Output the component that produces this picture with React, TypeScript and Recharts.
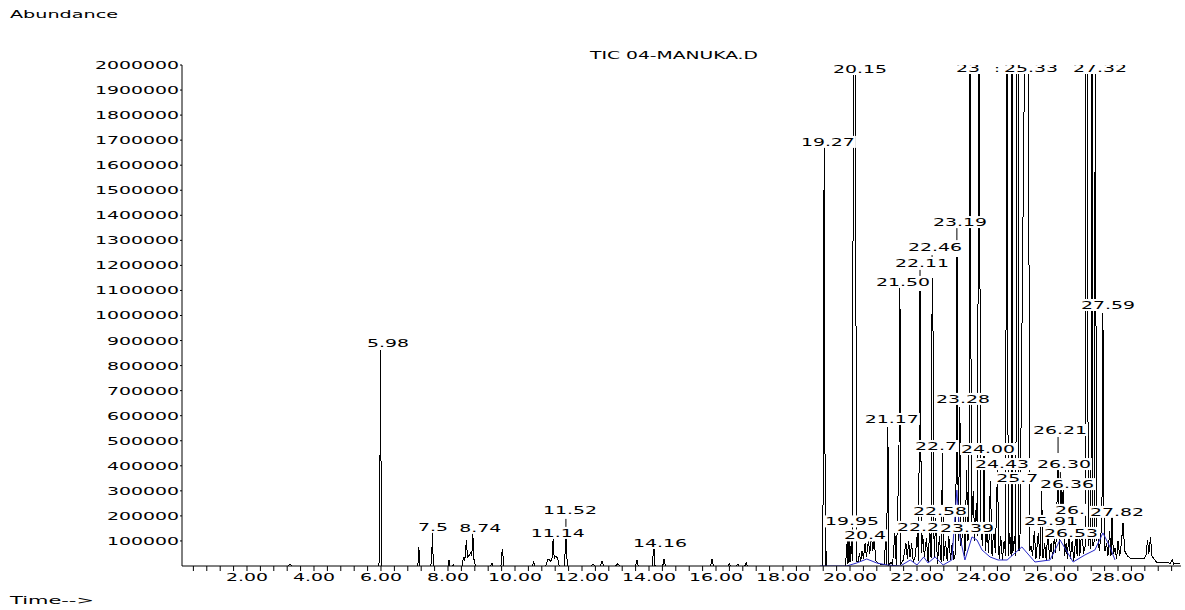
import React from 'react';
import { ComposedChart, Line, Scatter, XAxis, YAxis, ReferenceLine } from 'recharts';

// retention time (min), abundance (thousands)
const earlyScan: [number, number][] = [
  [0.3, 0], [3.22, 0], [3.28, 8], [3.34, 0],
  [5.94, 0], [5.97, 423], [5.99, 862], [6.01, 0],
  [7.1, 0], [7.13, 76], [7.16, 0],
  [7.49, 0], [7.52, 64], [7.54, 136], [7.56, 0],
  [8.0, 0], [8.03, 24], [8.06, 0], [8.14, 0], [8.16, 6], [8.18, 0],
  [8.42, 0], [8.46, 36], [8.5, 20], [8.55, 104], [8.58, 36], [8.62, 40], [8.67, 52], [8.71, 40], [8.74, 136], [8.77, 30], [8.82, 0],
  [9.27, 0], [9.31, 12], [9.34, 0],
  [9.58, 0], [9.61, 56], [9.63, 68], [9.66, 0],
  [10.52, 0], [10.56, 16], [10.6, 0],
  [10.92, 0], [10.97, 24], [11.02, 28], [11.07, 16], [11.11, 36], [11.14, 112], [11.17, 30], [11.22, 40], [11.27, 32], [11.32, 0],
  [11.48, 0], [11.51, 112], [11.53, 120], [11.56, 0],
  [12.28, 0], [12.33, 8], [12.38, 0], [12.55, 0], [12.6, 20], [12.65, 0],
  [13.0, 0], [13.07, 10], [13.12, 0], [13.6, 0], [13.64, 24], [13.68, 0],
  [14.1, 0], [14.13, 60], [14.15, 68], [14.18, 0], [14.41, 0], [14.45, 28], [14.49, 0],
  [15.84, 0], [15.88, 28], [15.92, 0],
  [16.36, 0], [16.4, 8], [16.44, 0], [16.61, 0], [16.65, 8], [16.69, 0], [16.86, 0], [16.9, 15], [16.94, 0],
  [19.0, 0],
];

const midScan: [number, number][] = [
  [19.19, 0], [19.21, 1074], [19.23, 1672], [19.245, 1074], [19.26, 0], [19.28, 76], [19.3, 0],
  [19.86, 0], [19.9, 60], [19.92, 116], [19.94, 10], [19.97, 116], [20.0, 15], [20.04, 100], [20.07, 20],
  [20.11, 2600], [20.16, 2600], [20.19, 20], [20.24, 15], [20.28, 50], [20.32, 20], [20.36, 60], [20.4, 30],
  [20.45, 90], [20.49, 35], [20.55, 104], [20.59, 50], [20.64, 124], [20.68, 60], [20.72, 115], [20.77, 20],
  [20.85, 10], [20.95, 5], [21.03, 5], [21.06, 124], [21.09, 5], [21.13, 555], [21.16, 5], [21.22, 15],
  [21.27, 5], [21.34, 132], [21.38, 5], [21.46, 423], [21.49, 1114], [21.52, 10], [21.58, 20], [21.62, 50],
  [21.67, 90], [21.71, 30], [21.75, 100], [21.79, 35], [21.84, 90], [21.89, 15], [21.95, 40], [22.01, 130],
  [22.05, 20], [22.08, 1094], [22.1, 1094], [22.13, 50], [22.17, 125], [22.22, 35], [22.28, 110], [22.33, 15],
  [22.38, 150], [22.42, 30], [22.44, 914], [22.46, 1150], [22.48, 914], [22.51, 30], [22.56, 190], [22.61, 10],
  [22.67, 120], [22.72, 15], [22.76, 451], [22.79, 20], [22.85, 100], [22.9, 20], [22.95, 120], [23.0, 25],
  [23.05, 90], [23.1, 25], [23.16, 60], [23.18, 1230], [23.2, 1230], [23.23, 100], [23.28, 635], [23.31, 80],
  [23.35, 120], [23.39, 200], [23.43, 40], [23.48, 383], [23.52, 100], [23.55, 150], [23.57, 2600], [23.6, 1790],
  [23.62, 150], [23.68, 300], [23.72, 100], [23.77, 250], [23.81, 120], [23.84, 2600], [23.87, 1620], [23.9, 150],
  [23.96, 80],
];

const lateScan: [number, number][] = [
  [24.0, 440], [24.04, 60], [24.09, 150], [24.14, 50], [24.19, 340], [24.24, 40], [24.29, 150], [24.34, 50],
  [24.4, 383], [24.45, 30], [24.5, 120], [24.55, 25], [24.6, 100], [24.65, 40], [24.67, 2600], [24.7, 2600],
  [24.72, 40], [24.77, 130], [24.81, 40], [24.84, 2600], [24.86, 50], [24.91, 120], [24.95, 40], [24.98, 2600],
  [25.01, 2600], [25.03, 60], [25.07, 60], [25.25, 2600], [25.31, 2600], [25.33, 1750], [25.37, 60], [25.4, 80],
  [25.45, 40], [25.5, 140], [25.55, 30], [25.62, 130], [25.67, 30], [25.72, 300], [25.76, 30], [25.81, 90],
  [25.86, 20], [25.91, 170], [25.95, 30], [26.0, 90], [26.05, 30], [26.1, 120], [26.14, 50], [26.21, 420],
  [26.25, 60], [26.3, 351], [26.33, 150], [26.36, 303], [26.4, 40], [26.45, 90], [26.49, 30], [26.53, 140],
  [26.58, 30], [26.63, 100], [26.68, 20], [26.74, 120], [26.78, 40], [26.82, 200], [26.86, 40], [26.92, 150],
  [26.97, 50], [27.02, 80], [27.05, 2600], [27.08, 2600], [27.11, 80], [27.15, 120], [27.19, 70], [27.22, 2600],
  [27.25, 80], [27.29, 100], [27.33, 2600], [27.35, 100], [27.4, 130], [27.44, 60], [27.49, 120], [27.53, 311],
  [27.55, 1010], [27.57, 311], [27.61, 60], [27.66, 90], [27.7, 40], [27.75, 140], [27.79, 40], [27.82, 196],
  [27.86, 50], [27.91, 70], [27.96, 30], [28.0, 100], [28.05, 40], [28.1, 90], [28.15, 172], [28.2, 60],
  [28.28, 40], [28.38, 30], [28.5, 28], [28.65, 28], [28.78, 30], [28.84, 45], [28.88, 104], [28.92, 50],
  [28.97, 116], [29.01, 40], [29.08, 28], [29.15, 15], [29.3, 14], [29.45, 15], [29.55, 10], [29.62, 24],
  [29.66, 8], [29.75, 12], [29.85, 10],
];

// blue integration baseline
const baseline: [number, number][] = [
  [19.1, 0], [19.9, 0], [20.2, 12], [20.5, 28], [20.8, 12], [21.1, 4], [21.5, 0], [21.8, 24], [22.0, 4],
  [22.2, 36], [22.33, 12], [22.54, 36], [22.78, 4], [23.04, 24], [23.19, 303], [23.28, 116], [23.43, 24],
  [23.64, 116], [23.79, 104], [23.94, 64], [24.18, 36], [24.42, 24], [24.69, 24], [25.13, 76], [25.52, 16],
  [25.97, 24], [26.27, 104], [26.66, 16], [27.01, 44], [27.31, 64], [27.55, 132], [27.76, 76], [27.91, 24],
];

// peak labels: text, time of label centre, abundance of label centre (thousands)
const labelTexts = ['5.98', '7.5', '8.74', '11.14', '11.52', '14.16', '19.27', '19.95', '20.4', '20.15',
  '21.17', '21.50', '22.2', '22.11', '22.46', '22.58', '22.7', '23.19', '23.28', '23.39', '23', '24.00',
  ':', '24.43', '25.7', '25.33', '26.21', '26.30', '26.36', '25.91', '26.53', '26.', '27.32', '27.59', '27.82'];
const labelTimes = [6.21, 7.55, 8.96, 11.28, 11.64, 14.33, 19.34, 20.06, 20.45, 20.3,
  21.25, 21.58, 22.03, 22.15, 22.54, 22.69, 22.57, 23.28, 23.37, 23.49, 23.52, 24.12,
  24.39, 24.54, 24.99, 25.4, 26.27, 26.39, 26.48, 26.0, 26.6, 26.57, 27.46, 27.7, 27.97];
const labelAbund = [890, 156, 152, 132, 224, 92, 1693, 178, 122, 1984,
  587, 1134, 156, 1210, 1273, 220, 479, 1373, 667, 152, 1988, 467,
  1988, 407, 351, 1988, 543, 407, 327, 180, 132, 224, 1988, 1042, 216];

const leaderTimes = [11.52, 22.09, 22.45, 23.19, 26.21, 26.28];
const leaderTop = [188, 1182, 1241, 1349, 515, 375];
const leaderBottom = [156, 1154, 1210, 1301, 451, 343];

const yTicks = [100000, 200000, 300000, 400000, 500000, 600000, 700000, 800000, 900000, 1000000,
  1100000, 1200000, 1300000, 1400000, 1500000, 1600000, 1700000, 1800000, 1900000, 2000000];
const xTicks = Array.from({ length: 74 }, (_, i) => Math.round((i + 1) * 4) / 10);

const FONT = '"DejaVu Sans", sans-serif';

const textLen = (s: string) =>
  s.split('').reduce((w, c) => w + (c === '.' || c === ':' || c === ' ' ? 6 : 12), 0);

const WideText = ({ x, y, text, anchor = 'middle', size = 11 }: any) => {
  const len = textLen(text);
  const x0 = anchor === 'middle' ? x - len / 2 : anchor === 'end' ? x - len : x;
  return (
    <text x={x0} y={y} dy="0.36em" fontFamily={FONT} fontSize={size} textLength={len}
      lengthAdjust="spacingAndGlyphs" fill="#000">
      {text}
    </text>
  );
};

const toPoints = (scan: [number, number][]) => scan.map(([t, a]) => ({ t, a: a * 1000 }));

const YTick = (props: any) => {
  const { x, y, payload } = props;
  return <WideText x={x} y={y} text={String(payload.value)} anchor="end" />;
};

const XTick = (props: any) => {
  const { x, y, payload } = props;
  const v = payload.value;
  if (Math.abs(v / 2 - Math.round(v / 2)) > 1e-6) return <g />;
  return <WideText x={x} y={y + 4} text={v.toFixed(2)} />;
};

const PeakLabel = (props: any) => {
  const { cx, cy, payload } = props;
  if (cx == null || cy == null) return <g />;
  const len = textLen(payload.text);
  return (
    <g>
      <rect x={cx - len / 2 - 1} y={cy - 6} width={len + 2} height={12} fill="#fff" />
      <WideText x={cx} y={cy} text={payload.text} />
    </g>
  );
};

const App: React.FC = () => {
  const trace = [...toPoints(earlyScan), ...toPoints(midScan), ...toPoints(lateScan)];
  const base = toPoints(baseline);
  const labels = labelTexts.map((text, i) => ({ t: labelTimes[i], a: labelAbund[i] * 1000, text }));

  return (
    <div style={{ position: 'absolute', left: 0, top: 0, width: 1185, height: 610, background: '#fff' }}>
      <ComposedChart width={1185} height={610} margin={{ top: 65, right: 4, bottom: 14, left: 0 }}>
        <XAxis dataKey="t" type="number" domain={[0.06, 29.88]} allowDataOverflow ticks={xTicks}
          interval={0} height={30} tickSize={5} tickMargin={2} tick={<XTick />}
          axisLine={{ stroke: '#000' }} tickLine={{ stroke: '#000' }} />
        <YAxis type="number" domain={[0, 2000000]} allowDataOverflow ticks={yTicks} interval={0}
          width={182} tickSize={2} tickMargin={1} tick={<YTick />}
          axisLine={{ stroke: '#000' }} tickLine={{ stroke: '#000' }} />
        <Line data={trace} dataKey="a" type="linear" stroke="#000" strokeWidth={1} dot={false}
          shapeRendering="crispEdges" isAnimationActive={false} />
        <Line data={base} dataKey="a" type="linear" stroke="#2a2ac8" strokeWidth={1} dot={false}
          isAnimationActive={false} />
        {leaderTimes.map((t, i) => (
          <ReferenceLine key={i} segment={[{ x: t, y: leaderTop[i] * 1000 }, { x: t, y: leaderBottom[i] * 1000 }]}
            stroke="#000" />
        ))}
        <Scatter data={labels} dataKey="a" shape={(p: any) => <PeakLabel {...p} />} isAnimationActive={false} />
      </ComposedChart>
      <svg width={1185} height={610} style={{ position: 'absolute', left: 0, top: 0, pointerEvents: 'none' }}>
        <WideText x={10} y={14} text="Abundance" anchor="start" />
        <WideText x={590} y={55} text="TIC 04-MANUKA.D" anchor="start" />
        <WideText x={10} y={600} text="Time-->" anchor="start" />
      </svg>
    </div>
  );
};

export default App;
